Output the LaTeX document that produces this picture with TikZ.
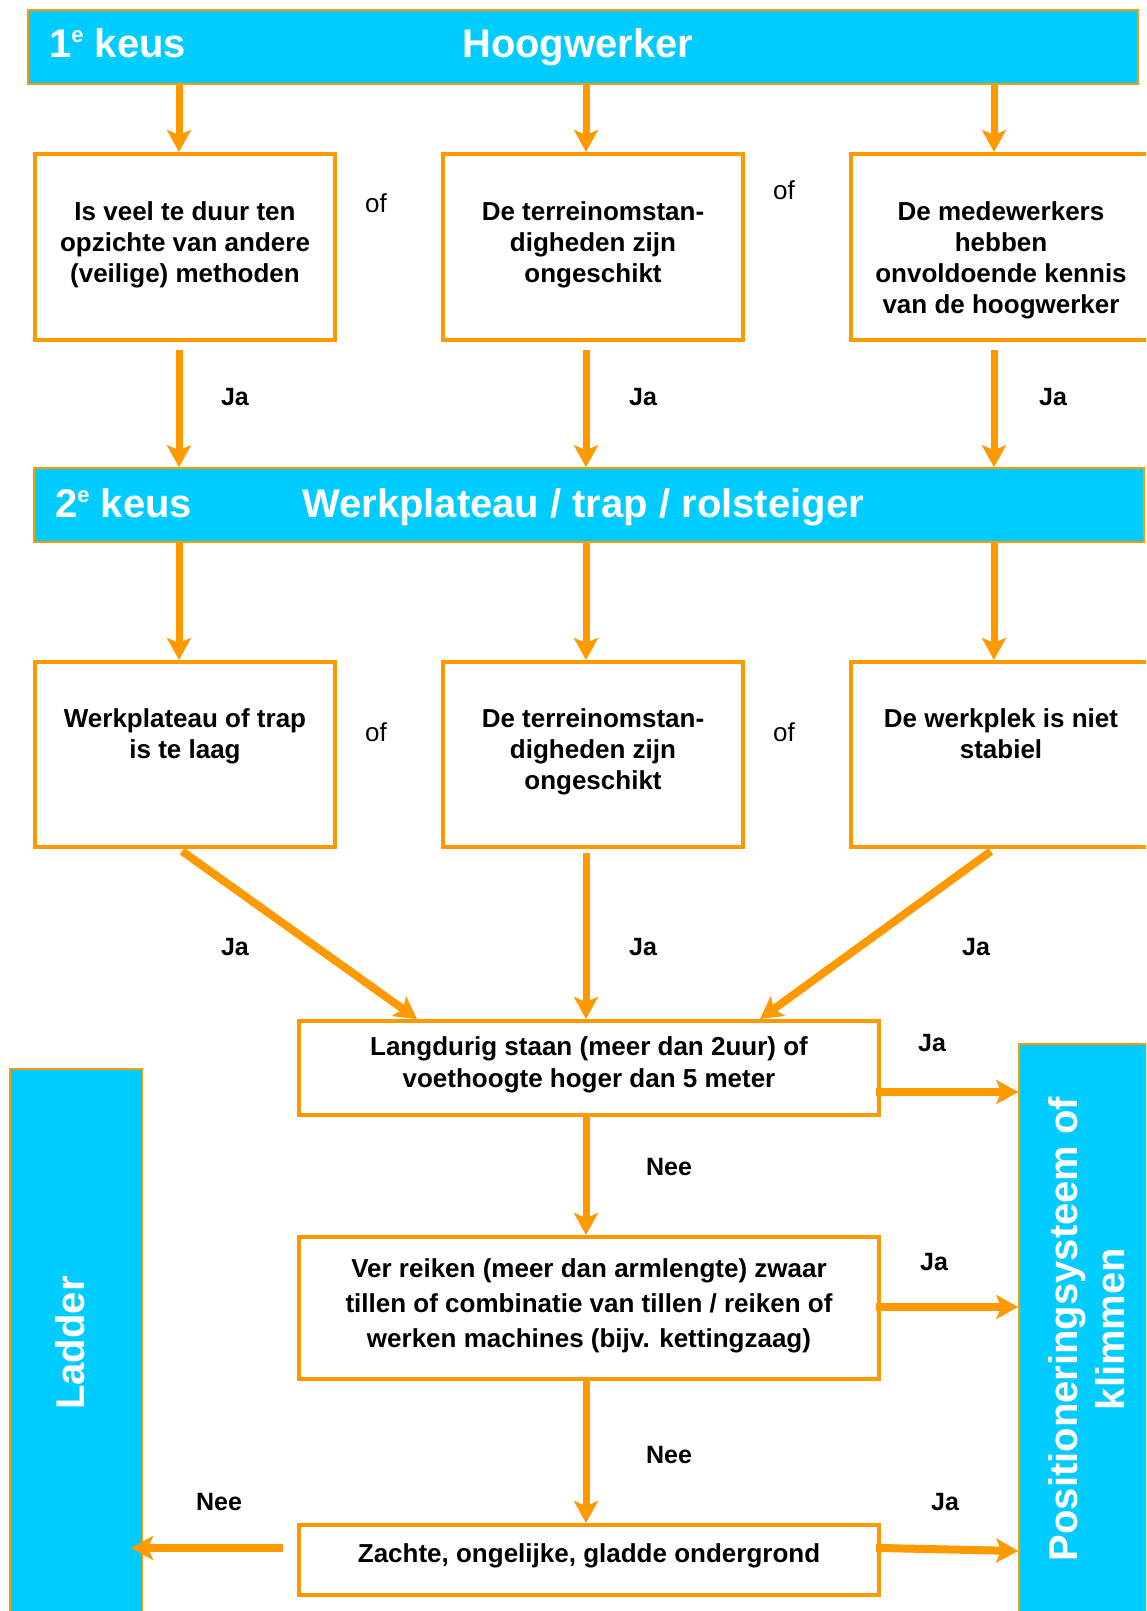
\documentclass[tikz,border=0pt]{standalone}
\usepackage{fontspec}
\setmainfont{Liberation Sans}
\usetikzlibrary{arrows.meta}
\definecolor{cyanb}{HTML}{00CCFF}
\definecolor{orng}{HTML}{FF9900}
\newcommand\myfs[2]{\fontsize{#1}{#2}\selectfont}
\begin{document}
\begin{tikzpicture}[x=1pt,y=-1pt,
  banner/.style={draw=orng, line width=1.5pt, fill=cyanb, inner sep=0pt},
  boxn/.style={draw=orng, line width=4pt, fill=white, inner sep=0pt},
  boxtxt/.style={font=\myfs{26}{31}\bfseries, align=center, inner sep=0pt, anchor=north},
  lbl/.style={font=\myfs{25}{30}\bfseries, inner sep=0pt},
  oflbl/.style={font=\myfs{26}{30}, inner sep=0pt},
  bantxt/.style={font=\myfs{40}{48}\bfseries, text=white, inner sep=0pt, anchor=base west},
  vtxt/.style={font=\myfs{40}{48}\bfseries, text=white, inner sep=0pt, anchor=base, rotate=90},
  arr/.style={draw=orng, line width=7pt, -{Stealth[length=22pt,width=24pt,inset=5pt]}},
  arrt/.style={arr, line width=8pt},
]
\useasboundingbox (0,0) rectangle (1146,1611);
\fill[white] (0,0) rectangle (1146,1611);
\clip (0,0) rectangle (1146,1611);

% column coordinates
\coordinate (ax1) at (179,0);
\coordinate (ax2) at (586,0);
\coordinate (ax3) at (994,0);
\coordinate (dx1) at (417,0);
\coordinate (dx3) at (760,0);
\coordinate (hy1) at (0,1092);
\coordinate (hy2) at (0,1307);
\coordinate (hy3a) at (0,1548);
\coordinate (hy3b) at (0,1551);

% banners
\node[banner, minimum width=1110pt, minimum height=74pt] (b1) at (583,47) {};
\node[bantxt] (b1a) at (49,58) {1\raisebox{15pt}{\myfs{22}{22}e} keus};
\node[bantxt] (b1b) at (462,58) {Hoogwerker};

\node[banner, minimum width=1110pt, minimum height=74pt] (b2) at (589,505) {};
\node[bantxt] (b2a) at (55,517) {2\raisebox{15pt}{\myfs{22}{22}e} keus};
\node[bantxt] (b2b) at (302,517) {Werkplateau / trap / rolsteiger};

\node[banner, minimum width=132.5pt, minimum height=600pt] (Ld) at (76,1369) {};
\node[vtxt] (Ldt) at (84,1343) {Ladder};

\node[banner, minimum width=140pt, minimum height=600pt] (P) at (1089,1344) {};
\node[vtxt] (Pt1) at (1077,1329) {Positioneringsysteem of};
\node[vtxt] (Pt2) at (1124,1329) {klimmen};

% row 1
\node[boxn, minimum width=300pt, minimum height=186pt] (r1a) at (185,247) {};
\node[boxn, minimum width=300pt, minimum height=186pt] (r1b) at (593,247) {};
\node[boxn, minimum width=300pt, minimum height=186pt] (r1c) at (1001,247) {};
\node[boxtxt] (t1a) at (185,201) {Is veel te duur ten\\opzichte van andere\\(veilige) methoden};
\node[boxtxt] (t1b) at (593,201) {De terreinomstan-\\digheden zijn\\ongeschikt};
\node[boxtxt] (t1c) at (1001,201) {De medewerkers\\hebben\\onvoldoende kennis\\van de hoogwerker};
\node[oflbl] (of1) at (376,203) {of};
\node[oflbl] (of2) at (784,190) {of};

% row 2
\node[boxn, minimum width=300pt, minimum height=185pt] (r2a) at (185,754.5) {};
\node[boxn, minimum width=300pt, minimum height=185pt] (r2b) at (593,754.5) {};
\node[boxn, minimum width=300pt, minimum height=185pt] (r2c) at (1001,754.5) {};
\node[boxtxt] (t2a) at (185,708) {Werkplateau of trap\\is te laag};
\node[boxtxt] (t2b) at (593,708) {De terreinomstan-\\digheden zijn\\ongeschikt};
\node[boxtxt] (t2c) at (1001,708) {De werkplek is niet\\stabiel};
\node[oflbl] (of3) at (376,732) {of};
\node[oflbl] (of4) at (784,732) {of};

% lower boxes
\node[boxn, minimum width=580pt, minimum height=94pt] (L) at (589,1068) {};
\node[boxtxt, font=\myfs{26}{32}\bfseries] (Lt) at (589,1036) {Langdurig staan (meer dan 2uur) of\\voethoogte hoger dan 5 meter};
\node[boxn, minimum width=580pt, minimum height=142pt] (V) at (589,1308) {};
\node[boxtxt, font=\myfs{26}{35}\bfseries] (Vt) at (589,1258) {Ver reiken (meer dan armlengte) zwaar\\tillen of combinatie van tillen / reiken of\\werken machines (bijv. kettingzaag)};
\node[boxn, minimum width=580pt, minimum height=70pt] (Z) at (589,1560) {};
\node[boxtxt, anchor=base] (Zt) at (589,1562) {Zachte, ongelijke, gladde ondergrond};

% arrows: banner 1 -> row 1
\draw[arr] (b1.south -| ax1) -- (r1a.north -| ax1);
\draw[arr] (b1.south -| ax2) -- (r1b.north -| ax2);
\draw[arr] (b1.south -| ax3) -- (r1c.north -| ax3);
% row 1 -> banner 2
\draw[arr, shorten <=8pt] (r1a.south -| ax1) -- (b2.north -| ax1);
\draw[arr, shorten <=8pt] (r1b.south -| ax2) -- (b2.north -| ax2);
\draw[arr, shorten <=8pt] (r1c.south -| ax3) -- (b2.north -| ax3);
\node[lbl] (j1) at (235,397) {Ja};
\node[lbl] (j2) at (643,397) {Ja};
\node[lbl] (j3) at (1053,397) {Ja};
% banner 2 -> row 2
\draw[arr] (b2.south -| ax1) -- (r2a.north -| ax1);
\draw[arr] (b2.south -| ax2) -- (r2b.north -| ax2);
\draw[arr] (b2.south -| ax3) -- (r2c.north -| ax3);
% row 2 -> L
\draw[arrt, shorten <=4pt] (r2a.south -| ax1) -- (L.north -| dx1);
\draw[arr, shorten <=4pt] (r2b.south -| ax2) -- (L.north -| ax2);
\draw[arrt, shorten <=4pt] (r2c.south -| ax3) -- (L.north -| dx3);
\node[lbl] (j4) at (235,947) {Ja};
\node[lbl] (j5) at (643,947) {Ja};
\node[lbl] (j6) at (976,947) {Ja};
% L -> V -> Z
\draw[arr] (L.south -| ax2) -- (V.north -| ax2);
\draw[arr] (V.south -| ax2) -- (Z.north -| ax2);
\node[lbl] (n1) at (669,1167) {Nee};
\node[lbl] (n2) at (669,1455) {Nee};
% to positioning system
\draw[arrt, shorten <=-5pt] (L.east |- hy1) -- (P.west |- hy1);
\draw[arrt, shorten <=-5pt] (V.east |- hy2) -- (P.west |- hy2);
\draw[arrt, shorten <=-5pt] (Z.east |- hy3a) -- (P.west |- hy3b);
\node[lbl] (j7) at (932,1043) {Ja};
\node[lbl] (j8) at (934,1262) {Ja};
\node[lbl] (j9) at (945,1502) {Ja};
% to ladder
\draw[arrt, shorten <=14pt, shorten >=-12pt] (Z.west |- hy3a) -- (Ld.east |- hy3a);
\node[lbl] (n3) at (219,1502) {Nee};
\end{tikzpicture}
\end{document}
